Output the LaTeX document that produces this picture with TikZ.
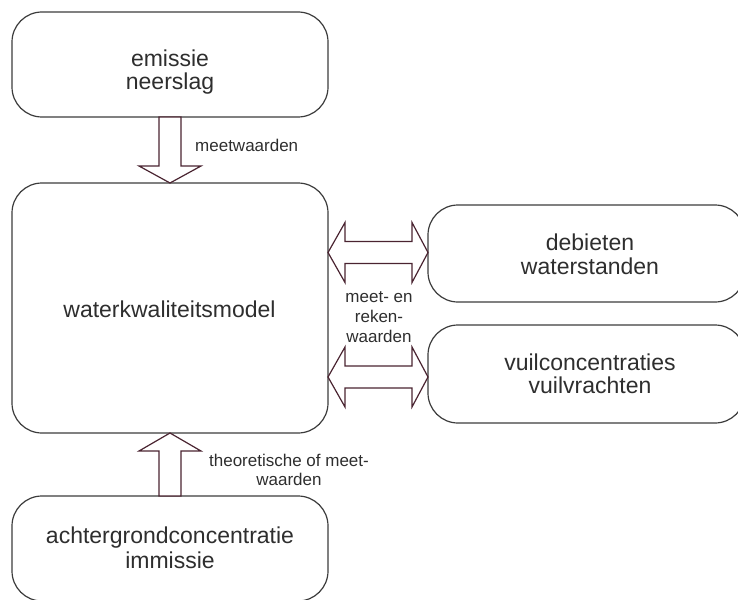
\documentclass[tikz,border=0pt]{standalone}
\usepackage{fontspec}
\setmainfont{Liberation Sans}
\usetikzlibrary{calc}
\definecolor{boxline}{HTML}{3C3C3C}
\definecolor{arrowline}{HTML}{4A2431}
\definecolor{ink}{HTML}{2E2E2E}
\tikzset{
  panel/.style={draw=boxline, line width=1.2pt, rounded corners=30pt,
    inner sep=0pt, outer sep=0pt, fill=white},
  bigtext/.style={text=ink, font=\fontsize{23}{23}\selectfont, anchor=base, inner sep=0pt},
  smalltext/.style={text=ink, font=\fontsize{17}{17}\selectfont, anchor=base, inner sep=0pt},
  blockarrow/.style={draw=arrowline, line width=1.2pt, fill=white, line join=miter},
}
\begin{document}
\begin{tikzpicture}[x=1pt,y=-1pt]
\useasboundingbox (0,0) rectangle (738,599);
\clip (0,0) rectangle (738,599);

% boxes
\node[panel, minimum width=316pt, minimum height=105pt] (src)  at (170,64.5) {};
\node[panel, minimum width=316pt, minimum height=250pt] (main) at (170,308) {};
\node[panel, minimum width=316pt, minimum height=105pt] (bot)  at (170,548.5) {};
\node[panel, minimum width=317pt, minimum height=97pt]  (r1)   at (586.5,253.5) {};
\node[panel, minimum width=317pt, minimum height=98pt]  (r2)   at (586.5,374) {};

% box texts
\node[bigtext] (srcA) at (170,66.5) {emissie};
\node[bigtext] (srcB) at (170,89.5) {neerslag};
\node[bigtext] (mainA) at (169.5,317) {waterkwaliteitsmodel};
\node[bigtext] (r1A) at (590,250) {debieten};
\node[bigtext] (r1B) at (590,274) {waterstanden};
\node[bigtext] (r2A) at (590,370) {vuilconcentraties};
\node[bigtext] (r2B) at (590,393.5) {vuilvrachten};
\node[bigtext] (botA) at (170,543.5) {achtergrondconcentratie};
\node[bigtext] (botB) at (170,568) {immissie};

% block arrow: source -> model
\draw[blockarrow]
  ($(src.south)+(-11,0)$) -- ($(main.north)+(-11,-17)$) -- ($(main.north)+(-31,-17)$)
  -- (main.north) -- ($(main.north)+(31,-17)$) -- ($(main.north)+(11,-17)$)
  -- ($(src.south)+(11,0)$) -- cycle;

% block arrow: background -> model
\draw[blockarrow]
  ($(bot.north)+(-11,0)$) -- ($(main.south)+(-11,18)$) -- ($(main.south)+(-31,18)$)
  -- (main.south) -- ($(main.south)+(31,18)$) -- ($(main.south)+(11,18)$)
  -- ($(bot.north)+(11,0)$) -- cycle;

% double block arrows: model <-> right boxes
\coordinate (la) at ($(main.east |- r1.west)+(0,-1)$);
\coordinate (ra) at ($(r1.west)+(0,-1)$);
\coordinate (lb) at ($(main.east |- r2.west)+(0,3)$);
\coordinate (rb) at ($(r2.west)+(0,3)$);
\foreach \l/\r in {la/ra, lb/rb}{
  \draw[blockarrow]
    (\l) -- ($(\l)+(17,-30)$) -- ($(\l)+(17,-11)$) -- ($(\r)+(-16,-11)$)
    -- ($(\r)+(-16,-30)$) -- (\r) -- ($(\r)+(-16,30)$) -- ($(\r)+(-16,11)$)
    -- ($(\l)+(17,11)$) -- ($(\l)+(17,30)$) -- cycle;
}

% connector labels
\node[smalltext, anchor=base west] (lbA) at (195,151) {meetwaarden};
\node[smalltext] (lbB1) at (379,302) {meet- en};
\node[smalltext] (lbB2) at (379,322) {reken-};
\node[smalltext] (lbB3) at (379,342) {waarden};
\node[smalltext] (lbC1) at (289,466.5) {theoretische of meet-};
\node[smalltext] (lbC2) at (289,485) {waarden};
\end{tikzpicture}
\end{document}
